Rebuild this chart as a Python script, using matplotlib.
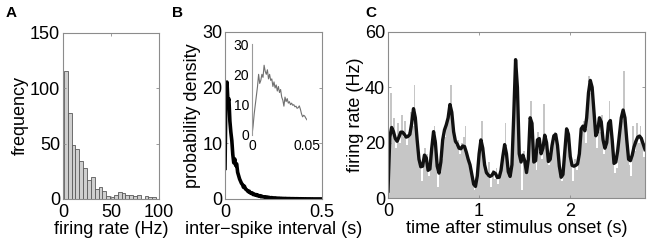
import numpy as np
import matplotlib
matplotlib.use('Agg')
import matplotlib.pyplot as plt

plt.rcParams['font.family'] = ['Liberation Sans', 'DejaVu Sans']
plt.rcParams['font.size'] = 13

# ---- data ----

# A: histogram of firing rates
rate_centers = [3, 7, 11, 15, 19, 23, 27, 31, 35, 39, 43, 47,
                51, 55, 59, 63, 67, 71, 75, 79, 83, 87, 91, 95]
rate_counts = [116, 78, 49, 45, 34, 28, 17, 20, 9, 11, 7, 3,
               2, 4, 6, 5, 4, 4, 3, 4, 0, 3, 2, 2]

# B: inter-spike interval density (0.005 s steps)
isi_t = np.arange(0, 0.5001, 0.005)
isi_dens = [5.5, 20, 21, 17.5, 18, 14, 12, 10.5, 8, 6.5,
            7.2, 6, 6.3, 4.8, 4.2, 3.6, 3.2, 2.8, 2.6, 2.1,
            2.3, 1.8, 1.7, 1.5, 1.3, 1.4, 1.1, 1.0, 1.1, 0.8,
            0.9, 0.7, 0.8, 0.6, 0.7, 0.5, 0.6, 0.4, 0.5, 0.4,
            0.35, 0.4, 0.3, 0.35, 0.25, 0.3, 0.25, 0.2, 0.25, 0.2,
            0.2, 0.15, 0.2, 0.15, 0.15, 0.1, 0.15, 0.1, 0.12, 0.1,
            0.1, 0.08, 0.1, 0.08, 0.08, 0.06, 0.08, 0.06, 0.06, 0.05,
            0.06, 0.05, 0.05, 0.04, 0.05, 0.04, 0.04, 0.03, 0.04, 0.03,
            0.03, 0.03, 0.02, 0.03, 0.02, 0.02, 0.02, 0.02, 0.02, 0.01,
            0.02, 0.01, 0.01, 0.01, 0.01, 0.01, 0.01, 0.01, 0.01, 0.01, 0.01]

# B inset: first 50 ms (1 ms steps)
inset_t = np.arange(0, 0.0505, 0.001)
inset_dens = [0, 3, 7, 10, 13, 16, 20, 17, 18, 20,
              19, 23, 21, 20, 21.5, 18.5, 20, 18, 18.5, 16,
              17.5, 15.5, 16.5, 14.5, 16, 14, 15, 12.5, 11.5, 9.5,
              12.5, 11, 12, 10.5, 11, 10, 10.5, 9.8, 10, 9.3,
              9.5, 8.8, 9, 9.6, 8.5, 7, 6, 6.5, 6.2, 5.5, 5]

# C: PSTH and smoothed firing rate (0.02 s steps)
dt = 0.02
psth = [22, 38, 24, 29, 18, 27, 20, 30, 22, 28, 19, 24, 31, 26, 41, 24, 15, 13, 6, 14,
        18, 16, 8, 12, 19, 26, 21, 4, 11, 14, 24, 22, 27, 30, 41, 28, 23, 19, 21, 16,
        20, 22, 26, 15, 13, 11, 6, 3, 6, 9, 18, 28, 16, 11, 8, 13, 4, 10, 7, 11,
        5, 9, 12, 17, 27, 14, 8, 10, 28, 45, 48, 30, 14, 3, 17, 12, 10, 19, 35, 25,
        14, 10, 24, 19, 14, 34, 21, 15, 12, 16, 21, 24, 20, 17, 9, 6, 10, 19, 24, 20,
        13, 6, 14, 10, 15, 22, 24, 28, 20, 31, 44, 38, 35, 26, 18, 27, 24, 30, 16, 20,
        26, 35, 24, 16, 9, 11, 20, 24, 28, 46, 25, 18, 12, 8, 26, 17, 27, 20, 26, 22,
        15, 24]
rate = [2.5, 22, 25.5, 24, 21.5, 20.5, 22, 23.8, 23.8, 23, 22, 22.3, 23, 27, 32.3, 29, 21, 14, 11.3, 11.5,
        15.5, 14.5, 10, 10.5, 18, 24, 20, 11.5, 9, 13, 21, 24.6, 26.5, 29, 33.8, 31, 24, 20.5, 19.5, 18,
        17.8, 18.8, 18.6, 16.5, 14, 12, 8.5, 5, 4.2, 8, 16, 21, 18, 12, 9.2, 8.3, 7.8, 8.2, 9.3, 8.8,
        7.4, 7.5, 10, 15, 19.3, 16, 9.5, 7.8, 12, 30, 50, 40, 16, 13, 15.5, 13.5, 9.2, 14, 29, 27,
        13, 13.5, 21, 21.5, 16, 18, 22.7, 20, 13.2, 14, 19, 22.5, 23, 19, 11.5, 7.5, 8.5, 17, 25, 23,
        15, 11.8, 11.5, 11.8, 12.3, 16, 25, 26, 24.3, 29, 38, 42.5, 40, 31, 22.5, 24, 29, 27.5, 21, 18,
        20, 27, 28, 21, 12.5, 13, 17, 23, 29, 31.8, 29, 21, 14, 13.5, 15.5, 18.5, 20.5, 22, 22.4, 21.5,
        19.5, 17.5]
time = np.arange(len(rate)) * dt

# ---- figure ----
fig = plt.figure(figsize=(6.5, 2.45), dpi=100)

spine_col = '#8c8c8c'

def style(ax):
    for s in ax.spines.values():
        s.set_color(spine_col)
        s.set_linewidth(0.8)
    ax.tick_params(direction='in', length=2, width=0.6, color=spine_col,
                   top=True, right=True, labelsize=13)
    ax.tick_params(axis='x', pad=3.5)
    ax.tick_params(axis='y', pad=2)

# A
axA = fig.add_axes([0.0969, 0.1878, 0.1477, 0.6776])
axA.bar(rate_centers, rate_counts, width=4, color='#cfcfcf',
        edgecolor='#5a5a5a', linewidth=0.6)
axA.set_xlim(0, 100)
axA.set_ylim(0, 150)
axA.set_xticks([0, 50, 100])
axA.set_yticks([0, 50, 100, 150])
axA.set_xlabel('firing rate (Hz)', labelpad=0)
axA.set_ylabel('frequency', labelpad=1)
style(axA)

# B
axB = fig.add_axes([0.3462, 0.1878, 0.1492, 0.6816])
axB.plot(isi_t, isi_dens, color='black', linewidth=2.6)
axB.set_xlim(0, 0.5)
axB.set_ylim(0, 30)
axB.set_xticks([0, 0.5])
axB.set_xticklabels(['0', '0.5'])
axB.set_yticks([0, 10, 20, 30])
axB.set_xlabel('inter\u2212spike interval (s)', labelpad=0)
axB.set_ylabel('probability density', labelpad=1)
style(axB)

axI = fig.add_axes([0.3877, 0.449, 0.0846, 0.3714])
axI.plot(inset_t, inset_dens, color='#707070', linewidth=0.8)
axI.set_xlim(0, 0.05)
axI.set_ylim(0, 30)
axI.set_xticks([0, 0.05])
axI.set_xticklabels(['0', '0.05'])
axI.set_yticks([0, 10, 20, 30])
axI.patch.set_alpha(0)
for s in ['top', 'right', 'bottom']:
    axI.spines[s].set_visible(False)
axI.spines['left'].set_color('#9a9a9a')
axI.tick_params(direction='in', length=0, labelsize=10)
axI.tick_params(axis='x', pad=3)
axI.tick_params(axis='y', pad=2)

# C
axC = fig.add_axes([0.5969, 0.1918, 0.3954, 0.6776])
axC.bar(time, psth, width=dt, align='edge', color='#c6c6c6', linewidth=0)
axC.plot(time, rate, color='#111111', linewidth=2.4, solid_joinstyle='round')
axC.set_xlim(0, 2.82)
axC.set_ylim(0, 60)
axC.set_xticks([0, 1, 2])
axC.set_yticks([0, 20, 40, 60])
axC.set_xlabel('time after stimulus onset (s)', labelpad=0)
axC.set_ylabel('firing rate (Hz)', labelpad=1)
style(axC)

fig.text(0.008, 0.93, 'A', fontsize=11, fontweight='bold')
fig.text(0.265, 0.93, 'B', fontsize=11, fontweight='bold')
fig.text(0.562, 0.93, 'C', fontsize=11, fontweight='bold')

fig.savefig('out.png', dpi=100)
